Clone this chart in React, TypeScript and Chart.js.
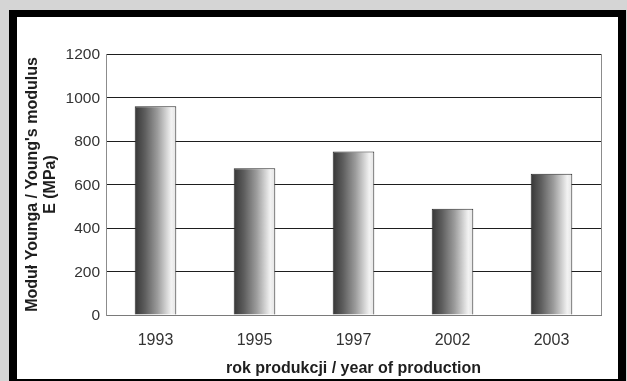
import React, { useEffect, useRef } from "react";
import { Chart, registerables } from "chart.js";

Chart.register(...registerables);

// Production years and measured Young's modulus (MPa)
const years: string[] = ["1993", "1995", "1997", "2002", "2003"];
const modulus: number[] = [960, 675, 752, 488, 650];

// Value axis
const yMin = 0;
const yMax = 1200;
const yStep = 200;

const xTitle = "rok produkcji / year of production";
const yTitle: string[] = ["Moduł Younga / Young's modulus", "E (MPa)"];

const BAR_PCT = 0.42;
const FONT = '"Liberation Sans", Arial, Helvetica, sans-serif';

export default function App() {
  const canvasRef = useRef<HTMLCanvasElement | null>(null);

  useEffect(() => {
    const canvas = canvasRef.current;
    if (!canvas) return;

    // cylinder-like shading across each bar
    const barFill = (c: any) => {
      const chart = c.chart;
      const xs = chart.scales && chart.scales.x;
      if (!xs || c.dataIndex == null || !xs.width) return "#8a8a8a";
      const center = xs.getPixelForValue(c.dataIndex);
      const half = ((xs.width / years.length) * BAR_PCT) / 2;
      const g = chart.ctx.createLinearGradient(center - half, 0, center + half, 0);
      g.addColorStop(0, "#363636");
      g.addColorStop(0.25, "#5e5e5e");
      g.addColorStop(0.55, "#9c9c9c");
      g.addColorStop(0.88, "#f2f2f2");
      g.addColorStop(1, "#e4e4e4");
      return g;
    };

    const chart = new Chart(canvas, {
      type: "bar",
      data: {
        labels: years,
        datasets: [
          {
            data: modulus,
            backgroundColor: barFill,
            borderColor: "#2a2a2a",
            borderWidth: 1,
            barPercentage: BAR_PCT,
            categoryPercentage: 1,
          },
        ],
      },
      options: {
        animation: false,
        responsive: false,
        events: [],
        layout: { padding: { left: 0, top: 37, right: 17, bottom: 0 } },
        plugins: {
          legend: { display: false },
          tooltip: { enabled: false },
        },
        scales: {
          x: {
            afterFit: (s: any) => {
              s.height = 64;
            },
            grid: {
              offset: true,
              drawTicks: false,
              color: (c: any) =>
                c.index === 0 || c.type === "scale" ? "#8c8c8c" : "rgba(0,0,0,0)",
            },
            border: { display: true, color: "#7a7a7a", width: 1 },
            ticks: {
              color: "#333",
              padding: 16,
              font: { family: FONT, size: 16 },
            },
            title: {
              display: true,
              text: xTitle,
              color: "#1e1e1e",
              padding: { top: 0, bottom: 1 },
              font: { family: FONT, size: 16, weight: "bold" },
            },
          },
          y: {
            min: yMin,
            max: yMax,
            afterFit: (s: any) => {
              s.width = 89;
            },
            grid: {
              drawTicks: false,
              lineWidth: 1,
              color: (c: any) => (c.tick && c.tick.value === 0 ? "#7a7a7a" : "#1e1e1e"),
            },
            border: { display: true, color: "#8c8c8c", width: 1 },
            ticks: {
              stepSize: yStep,
              color: "#333",
              padding: 6,
              labelOffset: 1,
              font: { family: FONT, size: 15.5 },
              callback: (v: any) => String(v),
            },
            title: {
              display: true,
              text: yTitle,
              color: "#1e1e1e",
              padding: { top: 7, bottom: 0 },
              font: { family: FONT, size: 16, weight: "bold", lineHeight: 1.1 },
            },
          },
        },
      },
    });

    return () => chart.destroy();
  }, []);

  return (
    <div
      style={{
        position: "fixed",
        left: 0,
        top: 0,
        width: 627,
        height: 381,
        background: "#d5d5d5",
        overflow: "hidden",
      }}
    >
      <div
        style={{
          position: "absolute",
          left: 9,
          top: 10,
          width: 617,
          height: 371,
          boxSizing: "border-box",
          borderStyle: "solid",
          borderColor: "#000",
          borderWidth: "7px 8px 2px 8px",
          background: "#fff",
        }}
      >
        <canvas
          ref={canvasRef}
          width={601}
          height={362}
          style={{ position: "absolute", left: 0, top: 0, width: 601, height: 362 }}
        />
      </div>
    </div>
  );
}
